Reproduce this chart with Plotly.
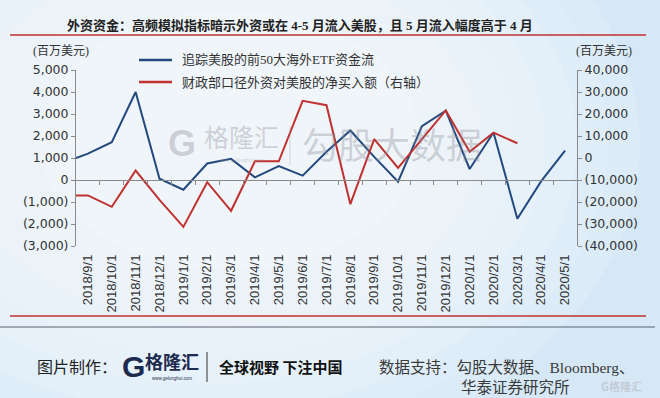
import plotly.graph_objects as go

# ---------------- data ----------------
categories = ["2018/9/1", "2018/10/1", "2018/11/1", "2018/12/1", "2019/1/1", "2019/2/1",
              "2019/3/1", "2019/4/1", "2019/5/1", "2019/6/1", "2019/7/1", "2019/8/1",
              "2019/9/1", "2019/10/1", "2019/11/1", "2019/12/1", "2020/1/1", "2020/2/1",
              "2020/3/1", "2020/4/1", "2020/5/1"]
# top-50 overseas ETF flows tracking US equities (left axis, USD mn)
etf_flow = [1200, 1720, 4000, 60, -440, 750, 960, 120, 630, 200, 1280, 2250,
            1050, -80, 2450, 3150, 500, 2160, -1760, -50, 1330]
# TIC net purchases of US equities by foreigners (right axis, USD mn)
tic_flow = [-17000, -22200, -5700, -19000, -31300, -11000, -24000, -1500, -1500, 26000,
            24000, -21000, 8600, -4500, 8500, 21600, 2800, 11500, 6700, None, None]
# values where each line meets the left axis edge
etf_start = 1000
tic_start = -17000

left_ticks = [-3000, -2000, -1000, 0, 1000, 2000, 3000, 4000, 5000]
left_ticktext = ["(3,000)", "(2,000)", "(1,000)", "0", "1,000", "2,000", "3,000", "4,000", "5,000"]
right_ticks = [-40000, -30000, -20000, -10000, 0, 10000, 20000, 30000, 40000]
right_ticktext = ["(40,000)", "(30,000)", "(20,000)", "(10,000)", "0", "10,000", "20,000",
                  "30,000", "40,000"]

name_etf = "追踪美股的前50大海外ETF资金流"
name_tic = "财政部口径外资对美股的净买入额（右轴）"
title_text = "外资资金：高频模拟指标暗示外资或在 4-5 月流入美股，且 5 月流入幅度高于 4 月"

# ---------------- layout constants ----------------
W, H = 660, 398
L, R, T, B = 76, 577, 70, 246

def px(x):
    return (x - L) / (R - L)

def py(y):
    return (B - y) / (B - T)

BLUE = "#24497f"
RED = "#c0312f"
AX = "#8a8a8a"
CJK = "Noto Sans CJK SC"
SERIF_CJK = "Liberation Serif, Noto Sans CJK SC"

idx = list(range(len(categories)))
x_min, x_max = -0.5, len(categories) - 0.5
y_left = [min(left_ticks), max(left_ticks)]
y_right = [min(right_ticks), max(right_ticks)]

fig = go.Figure()
fig.add_trace(go.Scatter(x=[x_min] + idx, y=[etf_start] + etf_flow, mode="lines",
                         line=dict(color=BLUE, width=2), name=name_etf,
                         showlegend=False, yaxis="y"))
fig.add_trace(go.Scatter(x=[x_min] + idx, y=[tic_start] + tic_flow, mode="lines",
                         line=dict(color=RED, width=2), name=name_tic,
                         showlegend=False, yaxis="y2", connectgaps=False))
# invisible helper trace for zero-line category axis
fig.add_trace(go.Scatter(x=idx, y=[0] * len(idx), mode="markers", marker=dict(opacity=0),
                         xaxis="x2", yaxis="y", showlegend=False, hoverinfo="skip"))

zero_pos = (0 - y_left[0]) / (y_left[1] - y_left[0])

shapes = []
# soft background gradient (stacked translucent ellipses)
for k in range(8):
    f = k / 7.0
    x0 = -260 + f * 300
    x1 = 640 - f * 220
    y0 = -180 + f * 190
    y1 = 470 - f * 200
    shapes.append(dict(type="circle", xref="paper", yref="paper",
                       x0=px(x0), x1=px(x1), y0=py(y1), y1=py(y0),
                       fillcolor="rgba(255,255,255,0.13)", line=dict(width=0), layer="below"))
# title underline and bottom rules
shapes.append(dict(type="line", xref="paper", yref="paper", x0=px(10), x1=px(646),
                   y0=py(35), y1=py(35), line=dict(color=RED, width=1.5)))
shapes.append(dict(type="line", xref="paper", yref="paper", x0=px(10), x1=px(646),
                   y0=py(316), y1=py(316), line=dict(color=RED, width=1.5)))
shapes.append(dict(type="line", xref="paper", yref="paper", x0=px(0), x1=px(655),
                   y0=py(327), y1=py(327), line=dict(color="#5a6370", width=1)))
# legend samples
shapes.append(dict(type="line", xref="paper", yref="paper", x0=px(139), x1=px(172),
                   y0=py(60), y1=py(60), line=dict(color=BLUE, width=2.5)))
shapes.append(dict(type="line", xref="paper", yref="paper", x0=px(139), x1=px(172),
                   y0=py(82), y1=py(82), line=dict(color=RED, width=2.5)))
# watermark separator
shapes.append(dict(type="line", xref="paper", yref="paper", x0=px(290), x1=px(290),
                   y0=py(126), y1=py(165), line=dict(color="rgba(150,150,160,0.35)", width=1)))
# footer separator
shapes.append(dict(type="line", xref="paper", yref="paper", x0=px(207), x1=px(207),
                   y0=py(352), y1=py(382), line=dict(color="#333333", width=1)))

def ann(text, x, y, size, color="#333333", family=CJK, xanchor="left", yanchor="middle", **kw):
    return dict(text=text, x=px(x), y=py(y), xref="paper", yref="paper", showarrow=False,
                xanchor=xanchor, yanchor=yanchor, font=dict(size=size, color=color, family=family),
                **kw)

annotations = [
    ann("<b>" + title_text + "</b>", 300, 25, 13, "#222222", SERIF_CJK, xanchor="center"),
    ann("(百万美元)", 31, 51, 12, "#333333", SERIF_CJK),
    ann("(百万美元)", 634, 51, 12, "#333333", SERIF_CJK, xanchor="right"),
    ann(name_etf, 180, 60, 13, "#333333", SERIF_CJK),
    ann(name_tic, 180, 82, 13, "#333333", SERIF_CJK),
    # watermark
    ann("<b>G</b>", 182, 143, 36, "rgba(140,140,150,0.35)", "Liberation Sans", xanchor="center"),
    ann("格隆汇", 241, 136, 25, "rgba(140,140,150,0.35)", CJK, xanchor="center"),
    ann("www.gelonghui.com", 241, 160, 5, "rgba(140,140,150,0.4)", "Liberation Sans", xanchor="center"),
    ann("勾股大数据", 392, 143, 36, "rgba(140,140,150,0.35)", CJK, xanchor="center"),
    # footer
    ann("图片制作：", 35, 366, 16, "#222222", CJK),
    ann("<b>G</b>", 133, 366, 30, "#1d2b4f", "Liberation Sans", xanchor="center"),
    ann("<b>格隆汇</b>", 172, 361, 18, "#1d2b4f", CJK, xanchor="center"),
    ann("www.gelonghui.com", 172, 378, 4.5, "#1d2b4f", "Liberation Sans", xanchor="center"),
    ann("<b>全球视野 下注中国</b>", 217, 366, 15, "#111111", CJK),
    ann("数据支持：勾股大数据、Bloomberg、", 377, 367, 15.5, "#3a3a3a", SERIF_CJK),
    ann("华泰证券研究所", 459, 387, 15.5, "#3a3a3a", SERIF_CJK),
    ann("<b>G格隆汇</b>", 644, 386, 11, "#c3ccd6", CJK, xanchor="right"),
]

fig.update_layout(
    width=W, height=H,
    margin=dict(l=L, r=W - R, t=T, b=H - B, pad=0),
    paper_bgcolor="#d6e8f6",
    plot_bgcolor="rgba(0,0,0,0)",
    showlegend=False,
    shapes=shapes,
    annotations=annotations,
    xaxis=dict(range=[x_min, x_max], tickmode="array", tickvals=idx, ticktext=categories,
               tickangle=-90, ticks="", showline=False, showgrid=False, zeroline=False,
               tickfont=dict(family="Liberation Sans, Arial", size=13, color="#333333"),
               ticklabelstandoff=5, fixedrange=True),
    xaxis2=dict(range=[x_min, x_max], overlaying="x", anchor="free", position=zero_pos,
                side="bottom", tickmode="array",
                tickvals=[i + 0.5 for i in idx[:-1]], ticks="outside", ticklen=4,
                tickcolor=AX, showticklabels=False, showline=True, linecolor=AX,
                linewidth=1, showgrid=False, zeroline=False),
    yaxis=dict(range=y_left, tickmode="array", tickvals=left_ticks, ticktext=left_ticktext,
               ticks="outside", ticklen=4, tickcolor=AX, showline=True, linecolor=AX,
               linewidth=1, showgrid=False, zeroline=False,
               tickfont=dict(family="DejaVu Sans", size=12.5, color="#333333")),
    yaxis2=dict(range=y_right, overlaying="y", side="right", tickmode="array",
                tickvals=right_ticks, ticktext=right_ticktext, ticks="outside", ticklen=4,
                tickcolor=AX, showline=True, linecolor=AX, linewidth=1, showgrid=False,
                zeroline=False,
                tickfont=dict(family="DejaVu Sans", size=12.5, color="#333333")),
)

fig.write_html("out.html", config={"displayModeBar": False},
               post_script="document.body.style.margin='0';document.body.style.overflow='hidden';")
